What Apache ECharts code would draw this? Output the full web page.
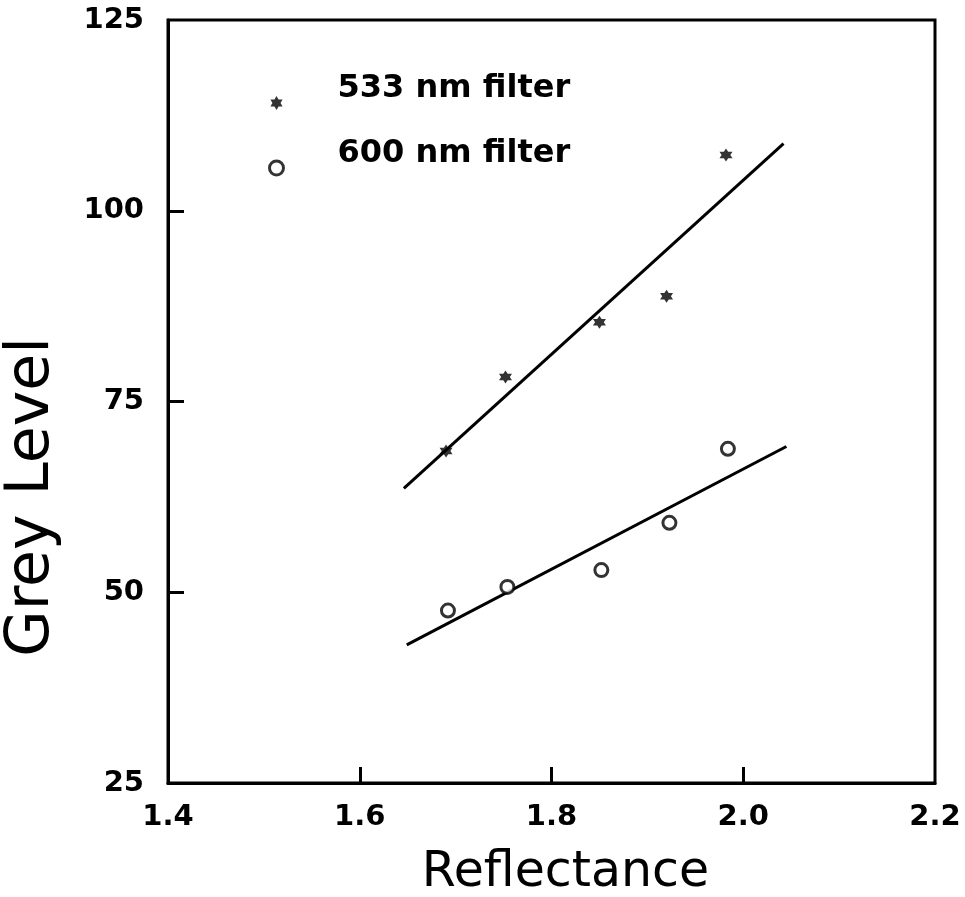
<!DOCTYPE html>
<html><head><meta charset="utf-8">
<script src="https://cdn.jsdelivr.net/npm/echarts@6/dist/echarts.min.js"></script>
<style>html,body{margin:0;padding:0;background:#fff}#c{width:965px;height:897px}</style>
</head><body><div id="c"></div>
<script>
const seriesNames = ['533 nm filter', '600 nm filter'];
const x533 = [1.690, 1.752, 1.850, 1.920, 1.982];
const y533 = [68.5, 78.2, 85.4, 88.8, 107.3];
const x600 = [1.692, 1.754, 1.852, 1.923, 1.984];
const y600 = [47.6, 50.7, 52.9, 59.1, 68.8];
const fit533X = [1.646, 2.042];
const fit533 = [63.6, 108.8];
const fit600X = [1.649, 2.045];
const fit600 = [43.1, 69.1];
const xTicks = [1.4, 1.6, 1.8, 2.0, 2.2];
const yTicks = [25, 50, 75, 100, 125];

const star = 'path://M0,-10 L2.9,-5 L8.66,-5 L5.8,0 L8.66,5 L2.9,5 L0,10 L-2.9,5 L-8.66,5 L-5.8,0 L-8.66,-5 L-2.9,-5 Z';
const pairs = (xs, ys) => xs.map((x, i) => [x, ys[i]]);
const font = 'DejaVu Sans';
const circleStyle = { color: '#fff', borderColor: '#000', borderWidth: 3 };

const chart = echarts.init(document.getElementById('c'));
chart.setOption({
  backgroundColor: '#fff',
  animation: false,
  grid: { left: 168, top: 20, right: 30, bottom: 114, show: true, borderColor: '#000', borderWidth: 3,
    outerBoundsMode: 'none', containLabel: false },
  legend: {
    orient: 'vertical', left: 268, top: 73, itemGap: 14, padding: 0,
    itemWidth: 14, itemHeight: 14,
    data: [
      { name: seriesNames[0], icon: star, itemStyle: { color: '#000' } },
      { name: seriesNames[1], icon: 'circle', itemStyle: { color: '#fff', borderColor: '#000', borderWidth: 3 } }
    ],
    formatter: name => '{t|' + name + '}\n{s| }',
    textStyle: { fontFamily: font, fontSize: 32, fontWeight: 'bold', color: '#000', padding: [0, 0, 0, 49],
      rich: {
        t: { fontFamily: font, fontSize: 32, fontWeight: 'bold', color: '#000', lineHeight: 32 },
        s: { fontFamily: font, fontSize: 10, lineHeight: 28 }
      } }
  },
  xAxis: {
    type: 'value', min: 1.4, max: 2.2, interval: 0.2,
    name: 'Reflectance', nameLocation: 'middle', nameGap: 66,
    nameTextStyle: { fontFamily: font, fontSize: 49, color: '#000', padding: [0, 0, 0, 28] },
    axisLine: { lineStyle: { color: '#000', width: 3 } },
    axisTick: { inside: true, length: 16, lineStyle: { color: '#000', width: 3 }, customValues: xTicks.slice(1, -1) },
    axisLabel: { fontFamily: font, fontSize: 29, fontWeight: 'bold', color: '#000', margin: 20,
      formatter: v => v.toFixed(1) },
    splitLine: { show: false }
  },
  yAxis: {
    type: 'value', min: 25, max: 125, interval: 25,
    name: 'Grey Level', nameLocation: 'middle', nameGap: 106,
    nameTextStyle: { fontFamily: font, fontSize: 60, color: '#000', padding: [0, 191, 0, 0] },
    axisLine: { lineStyle: { color: '#000', width: 3 } },
    axisTick: { inside: true, length: 16, lineStyle: { color: '#000', width: 3 }, customValues: yTicks.slice(1, -1) },
    axisLabel: { fontFamily: font, fontSize: 29, fontWeight: 'bold', color: '#000', margin: 24 },
    splitLine: { show: false }
  },
  series: [
    { name: seriesNames[0], type: 'scatter', data: pairs(x533, y533), symbol: star, symbolSize: 13,
      itemStyle: { color: '#000' }, z: 3 },
    { name: seriesNames[1], type: 'scatter', data: pairs(x600, y600), symbol: 'circle', symbolSize: 13,
      itemStyle: circleStyle, z: 3 },
    { type: 'line', data: pairs(fit533X, fit533), symbol: 'none', lineStyle: { color: '#000', width: 3 }, silent: true },
    { type: 'line', data: pairs(fit600X, fit600), symbol: 'none', lineStyle: { color: '#000', width: 3 }, silent: true }
  ]
});
</script></body></html>
